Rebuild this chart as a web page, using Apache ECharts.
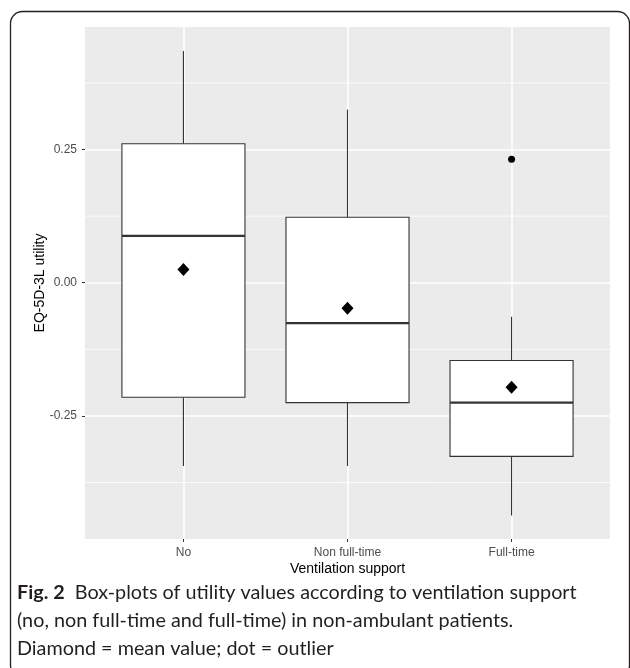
<!DOCTYPE html>
<html>
<head>
<meta charset="utf-8">
<script src="https://cdn.jsdelivr.net/npm/echarts@6/dist/echarts.min.js"></script>
<style>
  html, body { margin: 0; padding: 0; background: #fff; }
  #chart { width: 630px; height: 668px; }
</style>
</head>
<body>
<div id="chart"></div>
<script>
// Ventilation support groups and their EQ-5D-3L utility summaries
const categories = ['No', 'Non full-time', 'Full-time'];
const whiskerLow  = [-0.344, -0.344, -0.437];
const quartile1   = [-0.215, -0.225, -0.326];
const medians     = [ 0.088, -0.076, -0.225];
const quartile3   = [ 0.261,  0.123, -0.146];
const whiskerHigh = [ 0.435,  0.325, -0.064];
const means       = [ 0.025, -0.048, -0.196];
// outliers as [group index (1-based), value]
const outliers    = [[3, 0.232]];
const yTicks      = [-0.25, 0, 0.25];
const yMinorGrid  = [-0.375, -0.125, 0.125, 0.375];

const axisFont = 'Liberation Sans, Arial, sans-serif';
const captionFont = 'Lato, Open Sans, sans-serif';
const BOX_HALF = 0.375;
const X_MIN = 0.4, X_MAX = 3.6;

const boxData = categories.map((c, i) =>
  [i + 1, whiskerLow[i], quartile1[i], medians[i], quartile3[i], whiskerHigh[i]]);
const meanData = categories.map((c, i) => [i + 1, means[i]]);

const chart = echarts.init(document.getElementById('chart'), null, { renderer: 'canvas' });

chart.setOption({
  backgroundColor: '#ffffff',
  animation: false,
  grid: {
    left: 85, right: 20, top: 27, bottom: 129,
    show: true, backgroundColor: '#EBEBEB', borderWidth: 0
  },
  xAxis: {
    type: 'value', min: X_MIN, max: X_MAX,
    name: 'Ventilation support', nameLocation: 'middle', nameGap: 23, nameMoveOverlap: false,
    nameTextStyle: { color: '#000', fontSize: 14, fontFamily: axisFont },
    axisLine: { show: false, onZero: false },
    axisTick: { show: true, customValues: [1, 2, 3], length: 3, lineStyle: { color: '#333', width: 1 } },
    axisLabel: {
      customValues: [1, 2, 3], margin: 8, color: '#4D4D4D', fontSize: 12, fontFamily: axisFont,
      formatter: v => categories[Math.round(v) - 1]
    },
    splitLine: { show: true, lineStyle: { color: '#ffffff', width: 1.5 } }
  },
  yAxis: {
    type: 'value', min: -0.481, max: 0.48,
    name: 'EQ-5D-3L utility', nameLocation: 'middle', nameGap: 38, nameRotate: 90, nameMoveOverlap: false,
    nameTextStyle: { color: '#000', fontSize: 14, fontFamily: axisFont },
    axisLine: { show: false, onZero: false },
    axisTick: { show: true, customValues: yTicks, length: 3, lineStyle: { color: '#333', width: 1 } },
    axisLabel: {
      customValues: yTicks, margin: 8, color: '#4D4D4D', fontSize: 12, fontFamily: axisFont,
      formatter: v => v.toFixed(2)
    },
    splitLine: { show: true, lineStyle: { color: '#ffffff', width: 1.5 } }
  },
  series: [
    {
      // minor horizontal grid lines between the labelled ticks
      type: 'custom', z: 1, silent: true,
      data: yMinorGrid.map(v => [v]),
      encode: { y: 0 },
      renderItem: function (params, api) {
        const v = api.value(0);
        const a = api.coord([X_MIN, v]);
        const b = api.coord([X_MAX, v]);
        return {
          type: 'line',
          shape: { x1: a[0], y1: a[1], x2: b[0], y2: b[1] },
          style: { stroke: '#ffffff', lineWidth: 0.8 }
        };
      }
    },
    {
      type: 'custom', z: 3, data: boxData,
      renderItem: function (params, api) {
        const x = api.value(0);
        const lo = api.coord([x, api.value(1)]);
        const q1 = api.coord([x, api.value(2)]);
        const md = api.coord([x, api.value(3)]);
        const q3 = api.coord([x, api.value(4)]);
        const hi = api.coord([x, api.value(5)]);
        const left = api.coord([x - BOX_HALF, api.value(3)])[0];
        const right = api.coord([x + BOX_HALF, api.value(3)])[0];
        const stroke = '#333333';
        return {
          type: 'group',
          children: [
            { type: 'line', shape: { x1: hi[0], y1: hi[1], x2: q3[0], y2: q3[1] }, style: { stroke, lineWidth: 1.1 } },
            { type: 'line', shape: { x1: q1[0], y1: q1[1], x2: lo[0], y2: lo[1] }, style: { stroke, lineWidth: 1.1 } },
            { type: 'rect', shape: { x: left, y: q3[1], width: right - left, height: q1[1] - q3[1] },
              style: { fill: '#ffffff', stroke, lineWidth: 1.1 } },
            { type: 'line', shape: { x1: left, y1: md[1], x2: right, y2: md[1] }, style: { stroke, lineWidth: 2.2 } }
          ]
        };
      }
    },
    {
      type: 'scatter', z: 4, data: meanData, symbol: 'diamond', symbolSize: [12, 13],
      itemStyle: { color: '#000', opacity: 1 }
    },
    {
      type: 'scatter', z: 4, data: outliers, symbol: 'circle', symbolSize: 7,
      itemStyle: { color: '#000', opacity: 1 }
    }
  ],
  graphic: [
    {
      // rounded figure frame, open at the bottom edge of the page
      type: 'rect', silent: true,
      shape: { x: 10.5, y: 11.5, width: 619, height: 662, r: [12, 12, 8, 8] },
      style: { fill: 'none', stroke: '#231F20', lineWidth: 1.3 }
    },
    {
      type: 'text', left: 17, top: 583,
      style: {
        text: '{b|Fig. 2}  Box-plots of utility values according to ventilation support',
        fill: '#231F20', fontSize: 19.8, fontFamily: captionFont,
        rich: { b: { fontWeight: 'bold', fontSize: 19.8, fontFamily: captionFont, fill: '#231F20' } }
      }
    },
    {
      type: 'text', left: 17, top: 611,
      style: { text: '(no, non full-time and full-time) in non-ambulant patients.', fill: '#231F20', fontSize: 19.8, fontFamily: captionFont }
    },
    {
      type: 'text', left: 17, top: 639,
      style: { text: 'Diamond = mean value; dot = outlier', fill: '#231F20', fontSize: 19.8, fontFamily: captionFont }
    }
  ]
});
</script>
</body>
</html>
